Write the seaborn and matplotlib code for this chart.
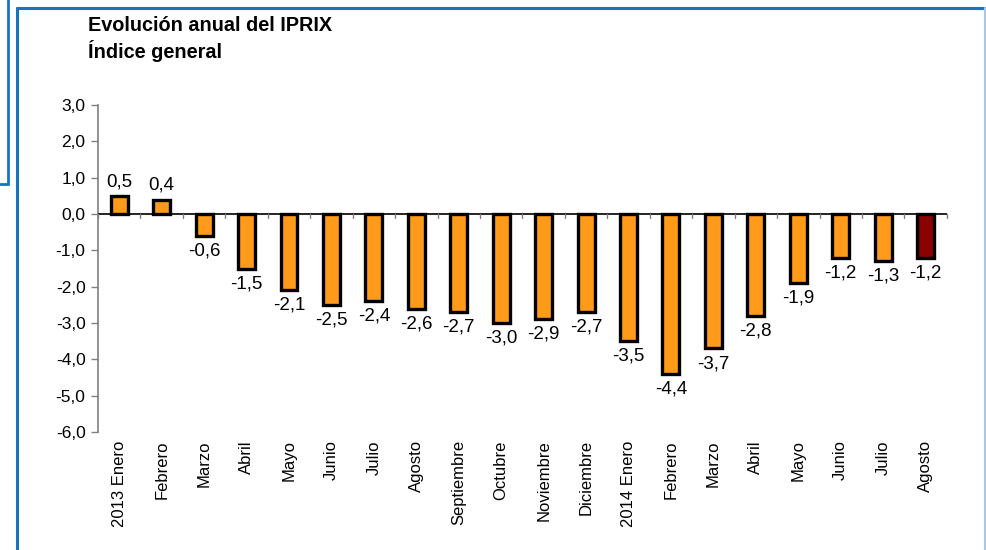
import matplotlib.pyplot as plt
import seaborn as sns
import pandas as pd
from matplotlib.lines import Line2D

# trailing spaces keep the 2014 months distinct from the 2013 ones
months = ['2013 Enero', 'Febrero', 'Marzo', 'Abril', 'Mayo', 'Junio', 'Julio',
          'Agosto', 'Septiembre', 'Octubre', 'Noviembre', 'Diciembre',
          '2014 Enero', 'Febrero ', 'Marzo ', 'Abril ', 'Mayo ', 'Junio ',
          'Julio ', 'Agosto ']
values = [0.5, 0.4, -0.6, -1.5, -2.1, -2.5, -2.4, -2.6, -2.7, -3.0, -2.9, -2.7,
          -3.5, -4.4, -3.7, -2.8, -1.9, -1.2, -1.3, -1.2]

sns.set_style('white')
plt.rcParams['font.family'] = ['Liberation Sans', 'DejaVu Sans']
plt.rcParams['text.color'] = 'black'
plt.rcParams['xtick.color'] = 'black'
plt.rcParams['ytick.color'] = 'black'

df = pd.DataFrame({'mes': months, 'valor': values})
colors = ['#FF9A1A'] * (len(df) - 1) + ['#8B0000']

fig = plt.figure(figsize=(9.87, 5.5), dpi=100)
ax = fig.add_axes([0.0993, 0.2145, 0.86, 0.5945])
sns.barplot(data=df, x='mes', y='valor', hue='mes', palette=colors, legend=False,
            width=0.4, edgecolor='black', linewidth=2.4, saturation=1, ax=ax)

ax.set_ylim(-6, 3)
ax.set_xlim(-0.5, len(df) - 0.5)
ax.set_yticks(range(-6, 4))
ax.set_yticklabels([f'{v},0' for v in range(-6, 4)], fontsize=12.5)
ax.set_xticks(range(len(df)))
ax.set_xticklabels([m.strip() for m in months], rotation=90, fontsize=12)
ax.tick_params(axis='x', length=0, pad=6)
ax.tick_params(axis='y', length=5, color='#808080', left=True, width=1, pad=4)
for s in ['top', 'right', 'bottom']:
    ax.spines[s].set_visible(False)
ax.spines['left'].set_color('#808080')
ax.spines['left'].set_linewidth(1.2)
ax.set_xlabel('')
ax.set_ylabel('')

# zero line with boundary ticks
ax.axhline(0, color='black', linewidth=1.2, zorder=3)
for i in range(len(df) + 1):
    ax.plot([i - 0.5, i - 0.5], [0, -0.12], color='#808080', linewidth=1,
            clip_on=False, zorder=3)

for i, v in enumerate(values):
    txt = f'{v:.1f}'.replace('.', ',')
    off = 0.16 if v > 0 else -0.18
    ax.text(i, v + off, txt, ha='center', va='bottom' if v > 0 else 'top',
            fontsize=13.5)

fig.text(0.089, 0.953, 'Evolución anual del IPRIX', fontsize=14.3,
         fontweight='bold', va='center')
fig.text(0.089, 0.908, 'Índice general', fontsize=14.3,
         fontweight='bold', va='center')

# blue frame lines
blue = '#1A73C0'
fig.add_artist(Line2D([0.008, 0.008], [1.0, 0.665], color=blue, lw=2,
                      transform=fig.transFigure))
fig.add_artist(Line2D([0.0, 0.008], [0.665, 0.665], color=blue, lw=2,
                      transform=fig.transFigure))
fig.add_artist(Line2D([0.017, 0.017], [0.0, 0.985], color=blue, lw=2.2,
                      transform=fig.transFigure))
fig.add_artist(Line2D([0.017, 1.0], [0.985, 0.985], color=blue, lw=2.2,
                      transform=fig.transFigure))
fig.add_artist(Line2D([0.998, 0.998], [0.0, 0.985], color='#A8C8E8', lw=1.5,
                      transform=fig.transFigure))

fig.savefig('out.png', dpi=100)
